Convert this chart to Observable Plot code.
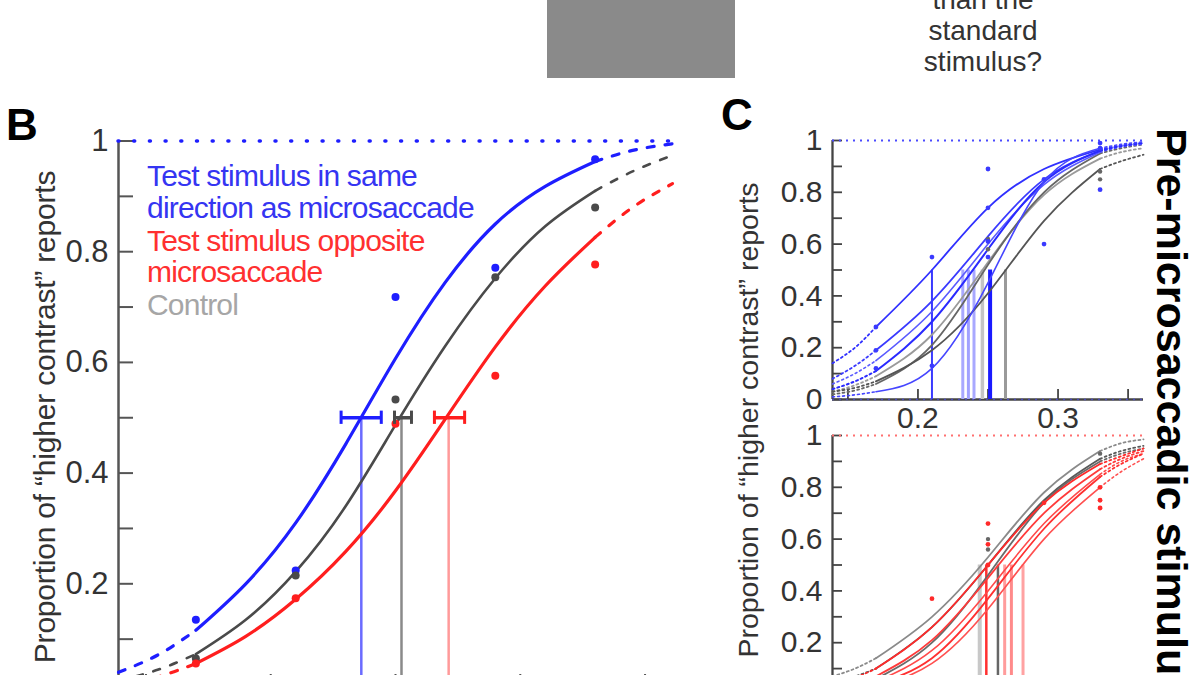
<!DOCTYPE html>
<html>
<head>
<meta charset="utf-8">
<script src="https://cdn.jsdelivr.net/npm/d3@7"></script>
<script src="https://cdn.jsdelivr.net/npm/@observablehq/plot@0.6"></script>
<style>
html, body { margin: 0; padding: 0; background: #fff; overflow: hidden; }
#fig { position: relative; width: 1200px; height: 675px; overflow: hidden; background: #fff;
       font-family: "Liberation Sans", Arial, Helvetica, sans-serif; }
.abs { position: absolute; white-space: nowrap; }
#fig svg { position: absolute; }
</style>
</head>
<body>
<div id="fig">
  <div class="abs" style="left:547px;top:0;width:188px;height:78px;background:#8a8a8a;"></div>
  <div class="abs" style="left:883px;top:-16px;width:200px;text-align:center;font-size:28px;line-height:31px;color:#333;">than the<br>standard<br>stimulus?</div>
  <div class="abs" style="left:6px;top:103px;font-weight:bold;font-size:44px;line-height:44px;color:#000;">B</div>
  <div class="abs" style="left:721px;top:93px;font-weight:bold;font-size:44px;line-height:44px;color:#000;">C</div>
  <div class="abs" style="left:45px;top:417px;font-size:30px;line-height:30px;letter-spacing:-0.2px;color:#333;transform:translate(-50%,-50%) rotate(-90deg);">Proportion of “higher contrast” reports</div>
  <div class="abs" style="left:748px;top:420px;font-size:28.5px;line-height:28px;color:#333;transform:translate(-50%,-50%) rotate(-90deg);">Proportion of “higher contrast” reports</div>
  <div class="abs" style="left:1193px;top:128px;font-weight:bold;font-size:43px;line-height:43px;color:#000;transform-origin:0 0;transform:rotate(90deg);">Pre-microsaccadic stimulus</div>
</div>
<script>
// ---------------- data ----------------
const xDomain = [0.139, 0.361];
const contrastLevels = [0.17, 0.21, 0.25, 0.29, 0.33];
const yTicksMinor = [0, 0.1, 0.2, 0.3, 0.4, 0.5, 0.6, 0.7, 0.8, 0.9, 1];
const yTicksMajorB = [0.2, 0.4, 0.6, 0.8, 1];
const yTicksMajorTop = [0, 0.2, 0.4, 0.6, 0.8, 1];
const yTicksMajorBottom = [0.2, 0.4, 0.6, 0.8, 1];
const xTicks = [0.15, 0.2, 0.25, 0.3, 0.35];
const xTickLabels = [0.2, 0.3];

// Panel B: fitted psychometric curves
const fitGridB     = [0.139, 0.155, 0.17, 0.19, 0.21, 0.23, 0.25, 0.27, 0.29, 0.31, 0.33, 0.345, 0.361];
const fitSameB     = [0.040, 0.072, 0.116, 0.200, 0.310, 0.452, 0.607, 0.745, 0.850, 0.918, 0.963, 0.983, 0.995];
const fitControlB  = [0.025, 0.045, 0.073, 0.135, 0.222, 0.340, 0.487, 0.630, 0.752, 0.846, 0.910, 0.945, 0.974];
const fitOppositeB = [0.015, 0.032, 0.056, 0.105, 0.172, 0.258, 0.368, 0.498, 0.628, 0.738, 0.826, 0.880, 0.923];
// Panel B: measured proportions at the five contrast levels
const dataSameB     = [0.135, 0.224, 0.718, 0.771, 0.967];
const dataControlB  = [0.065, 0.215, 0.533, 0.754, 0.880];
const dataOppositeB = [0.056, 0.174, 0.489, 0.576, 0.777];
// Panel B: thresholds (50% point) with error bars; order: same, control, opposite
const thresholdB     = [0.2363, 0.2524, 0.2713];
const thresholdLowB  = [0.2282, 0.2496, 0.2656];
const thresholdHighB = [0.2443, 0.2564, 0.2777];

// Panel B legend
const legendLines = ["Test stimulus in same", "direction as microsaccade", "Test stimulus opposite", "microsaccade", "Control"];
const legendGroup = ["same", "same", "opposite", "opposite", "control"];

// Panel C: individual fits, sampled at these contrasts
const fitGridC = [0.139, 0.155, 0.17, 0.21, 0.25, 0.29, 0.33, 0.345, 0.361];
// top: same direction (blue) and control (gray)
const fitSameC1 = [0.14, 0.20, 0.28, 0.50, 0.74, 0.89, 0.965, 0.980, 0.990];
const fitSameC2 = [0.08, 0.13, 0.19, 0.38, 0.63, 0.85, 0.960, 0.980, 0.990];
const fitSameC3 = [0.06, 0.10, 0.15, 0.34, 0.60, 0.83, 0.955, 0.975, 0.985];
const fitSameC4 = [0.04, 0.07, 0.11, 0.30, 0.58, 0.84, 0.960, 0.978, 0.990];
const fitSameC5 = [0.01, 0.018, 0.03, 0.12, 0.45, 0.84, 0.970, 0.985, 0.995];
const fitControlTopC1 = [0.03, 0.055, 0.09, 0.25, 0.53, 0.79, 0.93, 0.955, 0.970];
const fitControlTopC2 = [0.02, 0.035, 0.06, 0.21, 0.52, 0.80, 0.95, 0.970, 0.985];
const fitControlTopC3 = [0.03, 0.045, 0.07, 0.19, 0.41, 0.69, 0.89, 0.920, 0.945];
// bottom: opposite (red) and control (gray)
const fitOppC1 = [0.04, 0.065, 0.10, 0.26, 0.50, 0.74, 0.89, 0.92, 0.95];
const fitOppC2 = [0.03, 0.045, 0.07, 0.21, 0.45, 0.70, 0.87, 0.91, 0.94];
const fitOppC3 = [0.02, 0.030, 0.05, 0.17, 0.40, 0.66, 0.85, 0.90, 0.93];
const fitOppC4 = [0.015, 0.025, 0.04, 0.14, 0.37, 0.64, 0.84, 0.89, 0.93];
const fitOppC5 = [0.01, 0.018, 0.03, 0.12, 0.33, 0.60, 0.80, 0.86, 0.91];
const fitControlBotC1 = [0.07, 0.10, 0.14, 0.30, 0.53, 0.78, 0.94, 0.97, 0.985];
const fitControlBotC2 = [0.05, 0.07, 0.10, 0.26, 0.50, 0.75, 0.91, 0.94, 0.96];
const fitControlBotC3 = [0.02, 0.035, 0.06, 0.20, 0.46, 0.74, 0.90, 0.93, 0.95];
// Panel C points
const ptsSameCx = [0.17, 0.17, 0.17, 0.21, 0.21, 0.25, 0.25, 0.25, 0.25, 0.29, 0.29, 0.33, 0.33, 0.33];
const ptsSameCy = [0.28, 0.19, 0.12, 0.55, 0.13, 0.89, 0.74, 0.61, 0.55, 0.60, 0.85, 0.81, 0.97, 0.99];
const ptsControlTopCx = [0.25, 0.25, 0.33, 0.33];
const ptsControlTopCy = [0.62, 0.58, 0.85, 0.88];
const ptsOppCx = [0.21, 0.25, 0.25, 0.25, 0.29, 0.33, 0.33, 0.33];
const ptsOppCy = [0.37, 0.66, 0.58, 0.50, 0.74, 0.80, 0.75, 0.72];
const ptsControlBotCx = [0.25, 0.25, 0.33];
const ptsControlBotCy = [0.60, 0.56, 0.93];
// Panel C thresholds
const thrSameC = [0.210, 0.232, 0.236, 0.240, 0.2515];
const thrControlTopC = [0.246, 0.2625];
const thrOppC = [0.2488, 0.2619, 0.2667, 0.275];
const thrControlBotC = [0.2441, 0.2571];

// ---------------- styling ----------------
const BLUE = "#1e1eff", RED = "#ff1e1e", DARK = "#4a4a4a";
const FONT = "Liberation Sans, Arial, Helvetica, sans-serif";
const fig = document.getElementById("fig");

// legend for panel B
const legendColors = {same: "#3535f2", opposite: "#ff3030", control: "#a6a6a6"};
const legendBaselines = [186, 218, 251, 282, 315];
legendLines.forEach((t, i) => {
  const d = document.createElement("div");
  d.className = "abs";
  d.textContent = t;
  Object.assign(d.style, {left: "147px", top: (legendBaselines[i] - 25) + "px", fontSize: "30px",
    lineHeight: "30px", letterSpacing: "-0.8px", color: legendColors[legendGroup[i]]});
  fig.appendChild(d);
});

function fitMarks(grid, vals, color, width, dash, opacity = 1) {
  const lo = contrastLevels[0], hi = contrastLevels[contrastLevels.length - 1];
  const rows = grid.map((x, i) => ({x, y: vals[i]}));
  const eps = 1e-9;
  const common = {x: "x", y: "y", stroke: color, strokeWidth: width, strokeOpacity: opacity, curve: "natural"};
  return [
    Plot.line(rows.filter(d => d.x <= lo + eps), {...common, strokeDasharray: dash, strokeLinecap: "round"}),
    Plot.line(rows.filter(d => d.x >= lo - eps && d.x <= hi + eps), common),
    Plot.line(rows.filter(d => d.x >= hi - eps), {...common, strokeDasharray: dash, strokeLinecap: "round"})
  ];
}

function axisMarks({innerW, innerH, yLen, xLen, fontSize, yLabels, xLabels, color, yPad, xPad, lw}) {
  const m = [
    Plot.tickY(yTicksMinor, {y: d => d, stroke: color, strokeWidth: lw, insetRight: innerW - yLen}),
    Plot.tickX(xTicks, {x: d => d, stroke: color, strokeWidth: lw, insetTop: innerH - xLen}),
    Plot.ruleX([xDomain[0]], {stroke: color, strokeWidth: lw + 0.5}),
    Plot.ruleY([0], {stroke: color, strokeWidth: lw + 0.5}),
    Plot.axisY({ticks: yLabels, tickSize: 0, tickPadding: yPad, fontSize, tickFormat: d => String(d), label: null})
  ];
  if (xLabels) m.push(Plot.axisX({ticks: xLabels, tickSize: 0, tickPadding: xPad, fontSize, tickFormat: d => String(d), label: null}));
  return m;
}

function place({left, top, width, height, mL, mT, mR, mB, marks}) {
  const svg = Plot.plot({
    width, height, marginLeft: mL, marginTop: mT, marginRight: mR, marginBottom: mB,
    x: {domain: xDomain, axis: null}, y: {domain: [0, 1], axis: null},
    style: {background: "transparent", color: "#333", fontFamily: FONT, overflow: "visible"},
    marks
  });
  svg.style.left = left + "px";
  svg.style.top = top + "px";
  svg.style.maxWidth = "none";
  fig.appendChild(svg);
}

// ---------------- Panel B ----------------
{
  const W = 700, H = 760, mL = 118, mT = 140.5, mR = 28, mB = 66;
  const innerW = W - mL - mR, innerH = H - mT - mB;
  const groups = ["same", "control", "opposite"];
  const colors = {same: BLUE, control: DARK, opposite: RED};
  const ruleColors = {same: "#6b6bff", control: "#8a8a8a", opposite: "#ff9a9a"};
  const thr = groups.map((g, i) => ({g, x: thresholdB[i], lo: thresholdLowB[i], hi: thresholdHighB[i]}));
  const pts = [];
  [[dataSameB, "same"], [dataControlB, "control"], [dataOppositeB, "opposite"]].forEach(([arr, g]) =>
    arr.forEach((v, i) => pts.push({g, x: contrastLevels[i], y: v})));
  const marks = [
    ...axisMarks({innerW, innerH, yLen: 15, xLen: 20, fontSize: 31, yLabels: yTicksMajorB, xLabels: null, color: "#555", yPad: 10, xPad: 8, lw: 2}),
    Plot.ruleY([1], {stroke: BLUE, strokeWidth: 3.5, strokeDasharray: "1,14.7", strokeLinecap: "round"}),
    ...groups.map(g => Plot.ruleX(thr.filter(d => d.g === g), {x: "x", y1: 0, y2: 0.5, stroke: ruleColors[g], strokeWidth: 2.5})),
    ...fitMarks(fitGridB, fitOppositeB, RED, 3.2, "7,11"),
    ...fitMarks(fitGridB, fitControlB, DARK, 2.6, "7,11"),
    ...fitMarks(fitGridB, fitSameB, BLUE, 3.2, "7,11"),
    ...groups.map(g => Plot.dot(pts.filter(d => d.g === g), {x: "x", y: "y", r: 4, fill: colors[g]})),
    ...groups.map(g => Plot.ruleY(thr.filter(d => d.g === g), {y: 0.5, x1: "lo", x2: "hi", stroke: colors[g], strokeWidth: 3.5})),
    ...groups.map(g => Plot.ruleX(thr.filter(d => d.g === g).flatMap(d => [{x: d.lo}, {x: d.hi}]), {x: "x", y1: 0.488, y2: 0.512, stroke: colors[g], strokeWidth: 3}))
  ];
  place({left: 0, top: 0, width: W, height: H, mL, mT, mR, mB, marks});
}

// ---------------- Panel C ----------------
function panelC({top, fits, fitColors, fitWidths, ctrlFits, ctrlColors, thrMain, thrMainColors, thrCtrl, thrCtrlColors,
                 ptsMain, ptsMainColor, ptsCtrl, dotColor, yLabels, xLabels}) {
  const W = 500, H = 340, mL = 132, mT = 40, mR = 57, mB = 41;
  const innerW = W - mL - mR, innerH = H - mT - mB;
  const marks = [
    ...axisMarks({innerW, innerH, yLen: 10, xLen: 10, fontSize: 30, yLabels, xLabels, color: "#444", yPad: 10, xPad: 7, lw: 1.8}),
    Plot.ruleY([1], {stroke: dotColor, strokeWidth: 2.2, strokeDasharray: "2,5"}),
    Plot.ruleY([0], {stroke: dotColor, strokeWidth: 1.5, strokeDasharray: "2,5", strokeOpacity: 0.6}),
    ...thrCtrl.map((x, i) => Plot.ruleX([x], {y1: 0, y2: 0.5, stroke: thrCtrlColors[i][0], strokeWidth: thrCtrlColors[i][1]})),
    ...thrMain.map((x, i) => Plot.ruleX([x], {y1: 0, y2: 0.5, stroke: thrMainColors[i][0], strokeWidth: thrMainColors[i][1]})),
    ...ctrlFits.flatMap((f, i) => fitMarks(fitGridC, f, ctrlColors[i], 1.8, "2,3")),
    ...fits.flatMap((f, i) => fitMarks(fitGridC, f, fitColors[i], fitWidths[i], "2,3")),
    Plot.dot(ptsCtrl[0].map((x, i) => ({x, y: ptsCtrl[1][i]})), {x: "x", y: "y", r: 2.2, fill: "#666"}),
    Plot.dot(ptsMain[0].map((x, i) => ({x, y: ptsMain[1][i]})), {x: "x", y: "y", r: 2.4, fill: ptsMainColor})
  ];
  place({left: 700, top, width: W, height: H, mL, mT, mR, mB, marks});
}

panelC({
  top: 100,
  fits: [fitSameC1, fitSameC2, fitSameC3, fitSameC4, fitSameC5],
  fitColors: ["#3030ff", "#3a3aff", "#5a5aff", "#2a2aff", "#4646ff"],
  fitWidths: [1.8, 1.8, 1.6, 2.0, 1.6],
  ctrlFits: [fitControlTopC1, fitControlTopC2, fitControlTopC3],
  ctrlColors: ["#9a9a9a", "#666", "#555"],
  thrMain: thrSameC,
  thrMainColors: [["#3a3aff", 2], ["#a8a8ff", 3], ["#a0a0ff", 3], ["#a8a8ff", 3], ["#1a1aff", 4]],
  thrCtrl: thrControlTopC,
  thrCtrlColors: [["#c4c4c4", 3.5], ["#9a9a9a", 3]],
  ptsMain: [ptsSameCx, ptsSameCy], ptsMainColor: "#3a3aff",
  ptsCtrl: [ptsControlTopCx, ptsControlTopCy],
  dotColor: "#4a4aff",
  yLabels: yTicksMajorTop,
  xLabels: xTickLabels
});

panelC({
  top: 395,
  fits: [fitOppC1, fitOppC2, fitOppC3, fitOppC4, fitOppC5],
  fitColors: ["#ff2a2a", "#ff3a3a", "#ff4a4a", "#ff3030", "#ff5050"],
  fitWidths: [1.8, 1.8, 1.6, 1.8, 1.6],
  ctrlFits: [fitControlBotC1, fitControlBotC2, fitControlBotC3],
  ctrlColors: ["#8a8a8a", "#5a5a5a", "#6a6a6a"],
  thrMain: thrOppC,
  thrMainColors: [["#ff3030", 2.5], ["#ff9c9c", 3], ["#ff8a8a", 3], ["#ffa2a2", 3]],
  thrCtrl: thrControlBotC,
  thrCtrlColors: [["#c8c8c8", 4], ["#666", 2.5]],
  ptsMain: [ptsOppCx, ptsOppCy], ptsMainColor: "#ff2a2a",
  ptsCtrl: [ptsControlBotCx, ptsControlBotCy],
  dotColor: "#ff7070",
  yLabels: yTicksMajorBottom,
  xLabels: null
});
</script>
</body>
</html>
